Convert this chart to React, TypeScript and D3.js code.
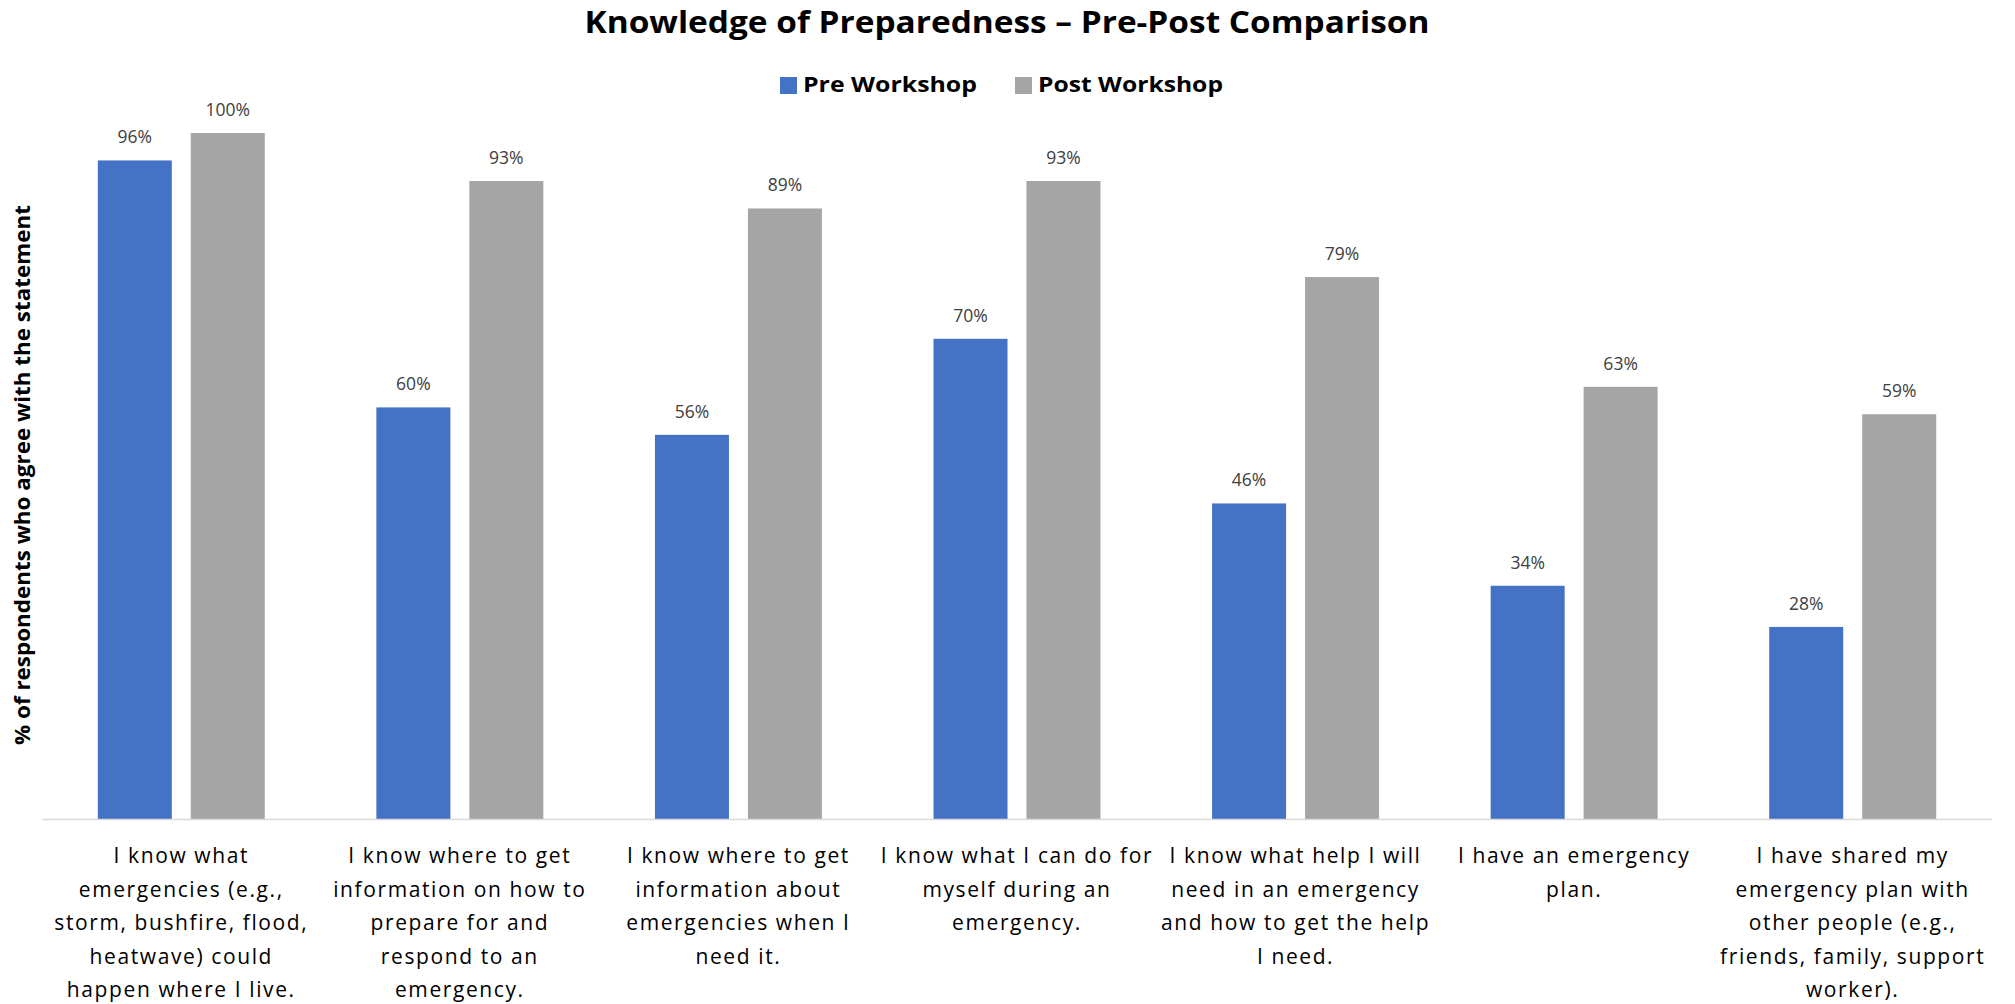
import React from "react";
import * as d3 from "d3";

const categories: string[][] = [
  ["I know what", "emergencies (e.g.,", "storm, bushfire, flood,", "heatwave) could", "happen where I live."],
  ["I know where to get", "information on how to", "prepare for and", "respond to an", "emergency."],
  ["I know where to get", "information about", "emergencies when I", "need it."],
  ["I know what I can do for", "myself during an", "emergency."],
  ["I know what help I will", "need in an emergency", "and how to get the help", "I need."],
  ["I have an emergency", "plan."],
  ["I have shared my", "emergency plan with", "other people (e.g.,", "friends, family, support", "worker)."],
];
const preValues = [96, 60, 56, 70, 46, 34, 28];
const postValues = [100, 93, 89, 93, 79, 63, 59];
const seriesNames = ["Pre Workshop", "Post Workshop"];
const colors = ["#4472C4", "#A5A5A5"];
const title = "Knowledge of Preparedness – Pre-Post Comparison";
const yLabel = "% of respondents who agree with the statement";

const W = 2015;
const H = 1004;
const font = "'Open Sans', 'Liberation Sans', sans-serif";

export default function App() {
  const x0 = d3
    .scaleBand<number>()
    .domain(d3.range(categories.length))
    .range([42, 1992])
    .paddingInner(0)
    .paddingOuter(0);
  const inner = d3.scaleBand<number>().domain([0, 1]).range([55.8, x0.bandwidth() - 55.8]).paddingInner(0.204);
  const y = d3.scaleLinear().domain([0, 100]).range([819, 133]);
  const series = [preValues, postValues];

  return (
    <svg width={W} height={H} style={{ position: "absolute", left: 0, top: 0, background: "#fff" }}>
      <rect x={0} y={0} width={W} height={H} fill="#fff" />
      <text x={1007} y={33} textAnchor="middle" fontFamily={font} fontWeight="bold" fontSize={30} textLength={845} lengthAdjust="spacingAndGlyphs" fill="#000">
        {title}
      </text>
      {/* legend */}
      <g>
        <rect x={780} y={77} width={17} height={17} fill={colors[0]} />
        <text x={803} y={92} fontFamily={font} fontWeight="bold" fontSize={22} textLength={174} lengthAdjust="spacingAndGlyphs" fill="#000">
          {seriesNames[0]}
        </text>
        <rect x={1015} y={77} width={17} height={17} fill={colors[1]} />
        <text x={1038} y={92} fontFamily={font} fontWeight="bold" fontSize={22} textLength={185} lengthAdjust="spacingAndGlyphs" fill="#000">
          {seriesNames[1]}
        </text>
      </g>
      {/* y label */}
      <text transform="translate(30,475) rotate(-90)" textAnchor="middle" fontFamily={font} fontWeight="bold" fontSize={21} textLength={540} lengthAdjust="spacingAndGlyphs" fill="#000">
        {yLabel}
      </text>
      {/* bars */}
      {categories.map((_, i) => (
        <g key={i} transform={`translate(${x0(i)},0)`}>
          {series.map((vals, s) => (
            <g key={s}>
              <rect x={inner(s)} y={y(vals[i])} width={inner.bandwidth()} height={y(0) - y(vals[i])} fill={colors[s]} />
              <text x={(inner(s) as number) + inner.bandwidth() / 2} y={y(vals[i]) - 17} textAnchor="middle" fontFamily={font} fontSize={17.5} fill="#404040">
                {vals[i]}%
              </text>
            </g>
          ))}
        </g>
      ))}
      <line x1={42} x2={1992} y1={819.5} y2={819.5} stroke="#D9D9D9" strokeWidth={1.5} />
      {/* category labels */}
      {categories.map((lines, i) => (
        <text key={i} textAnchor="middle" fontFamily={font} fontSize={21} letterSpacing={1.6} fill="#000">
          {lines.map((ln, j) => (
            <tspan key={j} x={(x0(i) as number) + x0.bandwidth() / 2} y={863 + j * 33.5}>
              {ln}
            </tspan>
          ))}
        </text>
      ))}
    </svg>
  );
}
